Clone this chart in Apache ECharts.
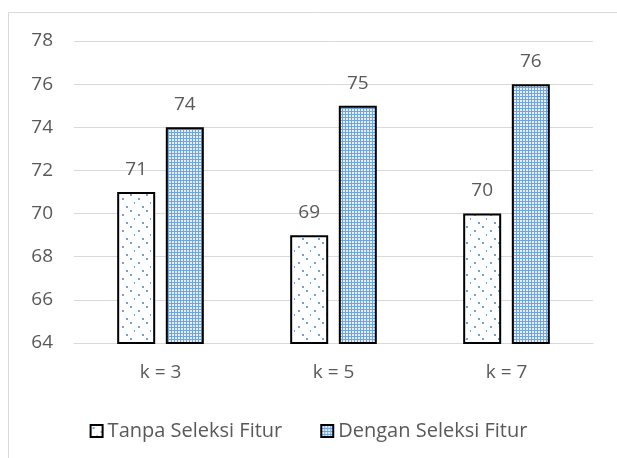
<!DOCTYPE html>
<html>
<head>
<meta charset="utf-8">
<script src="https://cdn.jsdelivr.net/npm/echarts@6/dist/echarts.min.js"></script>
<style>
  html, body { margin: 0; padding: 0; background: #fff; }
  #main { width: 617px; height: 458px; }
</style>
</head>
<body>
<div id="main"></div>
<script>
var categories = ['k = 3', 'k = 5', 'k = 7'];
var tanpa = [71, 69, 70];
var dengan = [74, 75, 76];
var yTicks = [64, 66, 68, 70, 72, 74, 76, 78];

// sparse dots on white
function dotPattern() {
    var c = document.createElement('canvas');
    c.width = 16; c.height = 16;
    var g = c.getContext('2d');
    g.fillStyle = '#ffffff';
    g.fillRect(0, 0, 16, 16);
    g.fillStyle = '#6fa5db';
    g.fillRect(2, 2, 2, 2);
    g.fillRect(10, 6, 2, 2);
    g.fillRect(6, 10, 1, 2);
    g.fillRect(14, 14, 2, 2);
    return c;
}
// dense blue grid
function gridPattern() {
    var c = document.createElement('canvas');
    c.width = 3; c.height = 3;
    var g = c.getContext('2d');
    g.fillStyle = '#6fa5db';
    g.fillRect(0, 0, 3, 3);
    g.fillStyle = '#e4effa';
    g.fillRect(1, 1, 2, 2);
    return c;
}

var myChart = echarts.init(document.getElementById('main'));
var font = 'Open Sans';
var fs = 19;
var option = {
    animation: false,
    textStyle: { fontFamily: font },
    graphic: [{
        type: 'rect',
        shape: { x: 8.5, y: 12.5, width: 700, height: 600 },
        style: { fill: 'none', stroke: '#d9d9d9', lineWidth: 1 },
        silent: true
    }],
    grid: { left: 74, right: 24, top: 41, bottom: 115 },
    legend: {
        top: 416,
        left: 'center',
        icon: 'rect',
        itemWidth: 12,
        itemHeight: 12,
        itemGap: 38,
        textStyle: { fontSize: 20, color: '#595959', fontFamily: font },
        data: ['Tanpa Seleksi Fitur', 'Dengan Seleksi Fitur']
    },
    xAxis: {
        type: 'category',
        data: categories,
        axisLine: { lineStyle: { color: '#d9d9d9', width: 1 } },
        axisTick: { show: false },
        axisLabel: { fontSize: fs, color: '#595959', margin: 20 }
    },
    yAxis: {
        type: 'value',
        min: 64,
        max: 78,
        interval: 2,
        axisLine: { show: false },
        axisTick: { show: false },
        splitLine: { lineStyle: { color: '#d9d9d9' } },
        axisLabel: { fontSize: fs, color: '#595959', margin: 21,
            formatter: function (v) { return yTicks.indexOf(v) >= 0 ? v : ''; } }
    },
    series: [{
        name: 'Tanpa Seleksi Fitur',
        type: 'bar',
        data: tanpa,
        barWidth: 38,
        barGap: '28%',
        itemStyle: {
            color: { image: dotPattern(), repeat: 'repeat' },
            borderColor: '#000',
            borderWidth: 2
        },
        label: { show: true, position: 'top', distance: 13, fontSize: fs, color: '#595959' }
    }, {
        name: 'Dengan Seleksi Fitur',
        type: 'bar',
        data: dengan,
        barWidth: 38,
        itemStyle: {
            color: { image: gridPattern(), repeat: 'repeat' },
            borderColor: '#000',
            borderWidth: 2
        },
        label: { show: true, position: 'top', distance: 13, fontSize: fs, color: '#595959' }
    }]
};
myChart.setOption(option);
</script>
</body>
</html>
